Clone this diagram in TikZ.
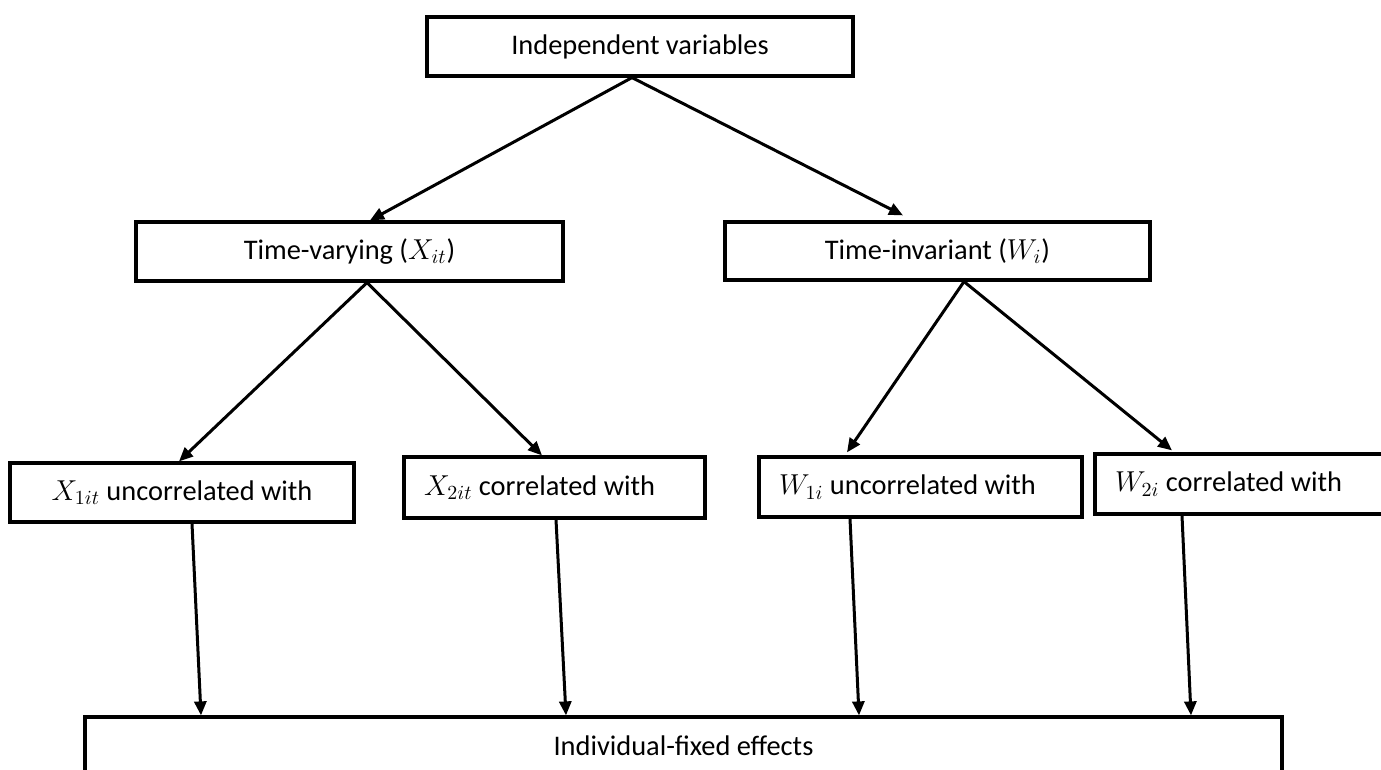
\documentclass[tikz,border=0pt]{standalone}
\usepackage{amsmath,amssymb}
\usepackage{fontspec}
\setmainfont{Carlito}
\usetikzlibrary{arrows.meta, positioning, calc}

\newcommand{\lefttext}[2]{\makebox[#1][l]{#2}}

\begin{document}
\begin{tikzpicture}[
    x=0.5pt, y=-0.5pt,
    font=\fontsize{14.2}{17}\selectfont,
    box/.style={rectangle, draw=black, line width=1.6pt, fill=white, inner sep=0pt, align=center},
    arrow/.style={-{Triangle[length=7pt, width=6pt]}, line width=1.5pt, draw=black}
]
\clip (0,0) rectangle (1381,770);
\fill[white] (0,0) rectangle (1381,770);

% Nodes
\node[box, minimum width=213pt, minimum height=29.5pt] (indep) at (640,46.5) {Independent variables};
\node[box, minimum width=213.5pt, minimum height=29.5pt] (tvary) at (349.5,251.5) {Time-varying ($X_{it}$)};
\node[box, minimum width=212.5pt, minimum height=29pt] (tinv) at (937.5,251) {Time-invariant ($W_{i}$)};

\node[box, minimum width=172pt, minimum height=29.5pt] (xone) at (182,492.5) {$X_{1it}$ uncorrelated with};
\node[box, minimum width=150.5pt, minimum height=30.5pt] (xtwo) at (554.5,487.5) {\lefttext{130.5pt}{$X_{2it}$ correlated with}};
\node[box, minimum width=161.5pt, minimum height=30pt] (wone) at (920.5,487) {\lefttext{141.5pt}{$W_{1i}$ uncorrelated with}};
\node[box, minimum width=152.5pt, minimum height=30pt] (wtwo) at (1247.5,484) {\lefttext{132.5pt}{$W_{2i}$ correlated with}};

\node[box, minimum width=598.5pt, minimum height=29pt] (fixed) at (683.5,746) {Individual-fixed effects};

% Arrows
\draw[arrow] ($(indep.south)+(-8,0)$) -- ($(tvary.north)+(20.5,0)$);
\draw[arrow] ($(indep.south)+(-8,0)$) -- ($(tinv.north)+(-34.5,-5)$);

\draw[arrow] ($(tvary.south)+(17.5,0)$) -- ($(xone.north)+(-3,0)$);
\draw[arrow] ($(tvary.south)+(17.5,0)$) -- ($(xtwo.north)+(-12.5,0)$);
\draw[arrow] ($(tinv.south)+(26.5,0)$) -- ($(wone.north)+(-73.5,-3)$);
\draw[arrow] ($(tinv.south)+(26.5,0)$) -- ($(wtwo.north)+(-75.5,-2)$);

\draw[arrow] ($(xone.south)+(10,0)$) -- ($(fixed.north)+(-482.5,0)$);
\draw[arrow] ($(xtwo.south)+(1.5,0)$) -- ($(fixed.north)+(-117.5,0)$);
\draw[arrow] ($(wone.south)+(-70.5,0)$) -- ($(fixed.north)+(175.5,0)$);
\draw[arrow] ($(wtwo.south)+(-65.5,0)$) -- ($(fixed.north)+(507.5,0)$);

\end{tikzpicture}
\end{document}
